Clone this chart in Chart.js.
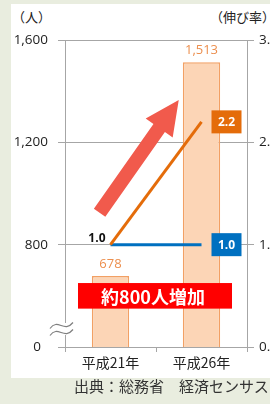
<!DOCTYPE html>
<html lang="ja">
<head>
<meta charset="utf-8">
<script src="https://cdn.jsdelivr.net/npm/chart.js@4.4.1/dist/chart.umd.min.js"></script>
<style>
  html, body { margin: 0; padding: 0; width: 270px; height: 404px; overflow: hidden; background: #e9eddf; }
  .card { position: absolute; left: 11px; top: 4px; width: 259px; height: 374px; background: #fff; }
  .wrap { position: absolute; left: 0; top: 0; width: 290px; height: 378px; }
  .unit { position: absolute; top: 9px; font: 13px "Noto Sans CJK JP"; line-height: 16px; color: #222; white-space: nowrap; }
  .source { position: absolute; left: 74px; top: 377px; font: 15px "Noto Sans CJK JP"; line-height: 18px; color: #333; white-space: nowrap; }
</style>
</head>
<body>
<div class="card"></div>
<div class="unit" style="left:12px">（人）</div>
<div class="unit" style="left:210px">（伸び率）</div>
<div class="wrap"><canvas id="chart"></canvas></div>
<div class="source">出典：総務省　経済センサス</div>
<script>
const years = ['平成21年', '平成26年'];
const workers = [678, 1513];
const growthCity = [1.0, 2.2];
const growthBase = [1.0, 1.0];
// left axis is broken: the bottom tick (400) is shown as 0
const leftTickValues = [400, 800, 1200, 1600];
const leftTickLabels = ['0  ', '800', '1,200', '1,600'];
const rightTickLabels = ['0.0', '1.0', '2.0', '3.0'];
const bannerText = '約800人増加';

const numFont = '"Open Sans", "Noto Sans CJK JP"';
const axisGray = '#a6a6a6';

const decor = {
    id: 'decor',
    afterDatasetsDraw(chart) {
        const { ctx, chartArea: a, scales } = chart;
        const x = scales.x, y = scales.y;
        ctx.save();

        // big red arrow (placed in scale units)
        const p0 = { x: x.getPixelForValue(-0.12), y: y.getPixelForValue(925) };
        const p1 = { x: x.getPixelForValue(0.75), y: y.getPixelForValue(1365) };
        const dx = p1.x - p0.x, dy = p1.y - p0.y, len = Math.hypot(dx, dy);
        const ux = dx / len, uy = dy / len, nx = -uy, ny = ux;
        const head = 34, hw = 16.5, sw = 7;
        const bx = p1.x - ux * head, by = p1.y - uy * head;
        ctx.beginPath();
        ctx.moveTo(p0.x + nx * sw, p0.y + ny * sw);
        ctx.lineTo(bx + nx * sw, by + ny * sw);
        ctx.lineTo(bx + nx * hw, by + ny * hw);
        ctx.lineTo(p1.x, p1.y);
        ctx.lineTo(bx - nx * hw, by - ny * hw);
        ctx.lineTo(bx - nx * sw, by - ny * sw);
        ctx.lineTo(p0.x - nx * sw, p0.y - ny * sw);
        ctx.closePath();
        ctx.fillStyle = '#f15a4c';
        ctx.fill();

        // bar values
        const bars = chart.getDatasetMeta(2).data;
        ctx.font = '13px ' + numFont;
        ctx.fillStyle = '#ec8f4e';
        ctx.textAlign = 'center';
        ctx.textBaseline = 'middle';
        bars.forEach((b, i) => {
            ctx.fillText(workers[i].toLocaleString('en-US'), b.x, b.y - 12);
        });

        // growth labels
        const cityPts = chart.getDatasetMeta(0).data;
        const basePts = chart.getDatasetMeta(1).data;
        ctx.font = 'bold 12px ' + numFont;
        ctx.fillStyle = '#111';
        ctx.textAlign = 'right';
        ctx.fillText(growthCity[0].toFixed(1), cityPts[0].x - 5, cityPts[0].y - 6);

        function box(pt, val, fill) {
            const w = 30, h = 23;
            ctx.fillStyle = fill;
            ctx.fillRect(pt.x + 10, pt.y - h / 2, w, h);
            ctx.fillStyle = '#fff';
            ctx.textAlign = 'center';
            ctx.fillText(val.toFixed(1), pt.x + 10 + w / 2, pt.y + 0.5);
        }
        box(cityPts[1], growthCity[1], '#e46c0a');
        box(basePts[1], growthBase[1], '#0070c0');

        // red banner
        const left = x.getPixelForValue(0) - 32.5;
        const right = x.getPixelForValue(1) + 30.5;
        const top = y.getPixelForValue(650), bottom = y.getPixelForValue(550);
        ctx.fillStyle = '#ff0000';
        ctx.fillRect(left, top, right - left, bottom - top);
        ctx.fillStyle = '#fff';
        ctx.font = 'bold 18px "Noto Sans CJK JP"';
        ctx.textAlign = 'center';
        ctx.fillText(bannerText, (left + right) / 2 - 2, (top + bottom) / 2 + 1);

        // axis break mark
        const cy = a.bottom - 18, x0 = a.left - 15;
        ctx.fillStyle = '#fff';
        ctx.fillRect(a.left - 2, cy - 6, 4, 12);
        ctx.strokeStyle = '#7f7f7f';
        ctx.lineWidth = 1.2;
        [-3.5, 3.5].forEach(off => {
            ctx.beginPath();
            ctx.moveTo(x0, cy + off + 3);
            ctx.bezierCurveTo(x0 + 8, cy + off - 8, x0 + 14, cy + off + 8, x0 + 23, cy + off - 3);
            ctx.stroke();
        });
        ctx.restore();
    }
};

new Chart(document.getElementById('chart'), {
    data: {
        labels: years,
        datasets: [
            {
                type: 'line',
                label: '伸び率',
                data: growthCity,
                yAxisID: 'y2',
                borderColor: '#e46c0a',
                borderWidth: 3,
                pointRadius: 0,
                order: 1
            },
            {
                type: 'line',
                label: '基準',
                data: growthBase,
                yAxisID: 'y2',
                borderColor: '#0070c0',
                borderWidth: 3,
                pointRadius: 0,
                order: 1
            },
            {
                type: 'bar',
                label: '人',
                data: workers,
                yAxisID: 'y',
                backgroundColor: '#fcd5b6',
                borderColor: '#f2a064',
                borderWidth: 1.5,
                categoryPercentage: 1,
                barPercentage: 0.41,
                order: 2
            }
        ]
    },
    options: {
        responsive: true,
        maintainAspectRatio: false,
        animation: false,
        layout: { padding: { top: 40, left: 0, right: 0, bottom: 0 } },
        plugins: { legend: { display: false }, tooltip: { enabled: false } },
        scales: {
            x: {
                offset: true,
                grid: { offset: true, drawOnChartArea: false, tickLength: 5, color: axisGray },
                border: { color: axisGray },
                ticks: { color: '#222', padding: 2, maxRotation: 0, font: { family: '"Noto Sans CJK JP"', size: 14 } },
                afterFit: s => { s.height = 31; }
            },
            y: {
                position: 'left',
                min: 400,
                max: 1600,
                grid: { color: axisGray, tickLength: 7 },
                border: { color: axisGray },
                afterBuildTicks: s => { s.ticks = leftTickValues.map(v => ({ value: v })); },
                ticks: {
                    color: '#222',
                    padding: 10,
                    font: { family: numFont, size: 13.5 },
                    callback: v => leftTickLabels[leftTickValues.indexOf(v)]
                },
                afterFit: s => { s.width = 65; }
            },
            y2: {
                position: 'right',
                min: 0,
                max: 3,
                grid: { drawOnChartArea: false, color: axisGray, tickLength: 7 },
                border: { color: axisGray },
                ticks: {
                    stepSize: 1,
                    color: '#222',
                    padding: 5,
                    font: { family: numFont, size: 13.5 },
                    callback: v => rightTickLabels[v]
                },
                afterFit: s => { s.width = 43; }
            }
        }
    },
    plugins: [decor]
});
</script>
</body>
</html>
